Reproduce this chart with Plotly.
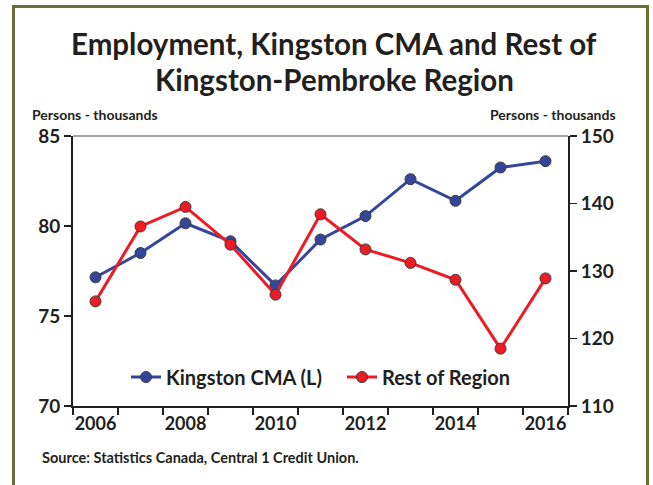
import plotly.graph_objects as go

years = [2006, 2007, 2008, 2009, 2010, 2011, 2012, 2013, 2014, 2015, 2016]
kingston = [77.15, 78.5, 80.15, 79.15, 76.7, 79.25, 80.55, 82.6, 81.4, 83.25, 83.6]
rest = [125.5, 136.6, 139.5, 133.9, 126.5, 138.4, 133.2, 131.2, 128.7, 118.5, 128.9]
x_labels = [2006, 2008, 2010, 2012, 2014, 2016]
left_ticks = [70, 75, 80, 85]
right_ticks = [110, 120, 130, 140, 150]

FONT = "Lato"
DARK = "#231f20"
BLUE = "#34469c"
RED = "#ed1c24"
OLIVE = "#6b6e35"

W, H = 653, 485
L, R, T, B = 73, 568, 136, 406  # screen coords of plot area

def px(x):
    return (x - L) / (R - L)

def py(y):
    return (B - y) / (B - T)

fig = go.Figure()
fig.add_trace(go.Scatter(
    x=years, y=kingston, name="Kingston CMA (L)", mode="lines+markers",
    line=dict(color=BLUE, width=3),
    marker=dict(size=11, color=BLUE, line=dict(color="#3a3a3a", width=1)),
    yaxis="y"))
fig.add_trace(go.Scatter(
    x=years, y=rest, name="Rest of Region", mode="lines+markers",
    line=dict(color=RED, width=3),
    marker=dict(size=11, color=RED, line=dict(color="#3a3a3a", width=1)),
    yaxis="y2"))

fig.update_layout(
    width=W, height=H,
    margin=dict(l=L, r=W - R, t=T, b=H - B, pad=0),
    paper_bgcolor="white", plot_bgcolor="white",
    font=dict(family=FONT, color=DARK),
    showlegend=True,
    legend=dict(orientation="h", x=px(126), y=py(377), xanchor="left", yanchor="middle",
                font=dict(size=20, family=FONT, color=DARK, weight="bold"),
                bgcolor="rgba(0,0,0,0)", itemwidth=30, tracegroupgap=0,
                entrywidthmode="pixels", entrywidth=171),
    xaxis=dict(range=[years[0] - 0.5, years[-1] + 0.5], tickvals=x_labels,
               ticktext=[str(v) for v in x_labels], ticks="",
               showline=True, linecolor=DARK, linewidth=2, showgrid=False, zeroline=False,
               tickfont=dict(size=18, family=FONT, color=DARK, weight="bold"),
               minor=dict(tickvals=[y - 0.5 for y in years] + [years[-1] + 0.5],
                          ticks="outside", ticklen=7, tickwidth=1.5, tickcolor=DARK,
                          showgrid=False),
               mirror=False),
    yaxis=dict(range=[left_ticks[0], left_ticks[-1]], tickvals=left_ticks,
               ticks="outside", ticklen=7, tickwidth=1.5, tickcolor=DARK,
               showline=True, linecolor=DARK, linewidth=2, showgrid=False, zeroline=False,
               tickfont=dict(size=19, family=FONT, color=DARK, weight="bold")),
    yaxis2=dict(range=[right_ticks[0], right_ticks[-1]], tickvals=right_ticks,
                overlaying="y", side="right",
                ticks="outside", ticklen=7, tickwidth=1.5, tickcolor=DARK,
                showline=True, linecolor=DARK, linewidth=2, showgrid=False, zeroline=False,
                tickfont=dict(size=19, family=FONT, color=DARK, weight="bold")),
)

# top border of plot area (gray)
fig.add_shape(type="line", xref="paper", yref="paper", x0=0, x1=1, y0=1, y1=1,
              line=dict(color="#8a8a8a", width=1.5))
# olive frame (three visible sides)
for (x0, y0, x1, y1) in [(13.5, 5, 13.5, 490), (647.5, 5, 647.5, 490), (12, 6.5, 649, 6.5)]:
    fig.add_shape(type="line", xref="paper", yref="paper",
                  x0=px(x0), x1=px(x1), y0=py(y0), y1=py(y1),
                  line=dict(color=OLIVE, width=3))

titles = ["Employment, Kingston CMA and Rest of", "Kingston-Pembroke Region"]
title_y = [44, 80]
for txt, yy in zip(titles, title_y):
    fig.add_annotation(text="<b>%s</b>" % txt, xref="paper", yref="paper",
                       x=px(334), y=py(yy), xanchor="center", yanchor="middle",
                       showarrow=False, font=dict(size=29.5, family=FONT, color=DARK))
fig.add_annotation(text="<b>Persons - thousands</b>", xref="paper", yref="paper",
                   x=px(30), y=py(114), xanchor="left", yanchor="middle", showarrow=False,
                   font=dict(size=14, family=FONT, color=DARK))
fig.add_annotation(text="<b>Persons - thousands</b>", xref="paper", yref="paper",
                   x=px(618), y=py(114), xanchor="right", yanchor="middle", showarrow=False,
                   font=dict(size=14, family=FONT, color=DARK))
fig.add_annotation(text="<b>Source: Statistics Canada, Central 1 Credit Union.</b>",
                   xref="paper", yref="paper",
                   x=px(40), y=py(457), xanchor="left", yanchor="middle", showarrow=False,
                   font=dict(size=14.5, family=FONT, color=DARK))

fig.write_html("out.html", config={"displayModeBar": False, "staticPlot": True},
               post_script="document.body.style.margin='0';document.body.style.overflow='hidden';")
